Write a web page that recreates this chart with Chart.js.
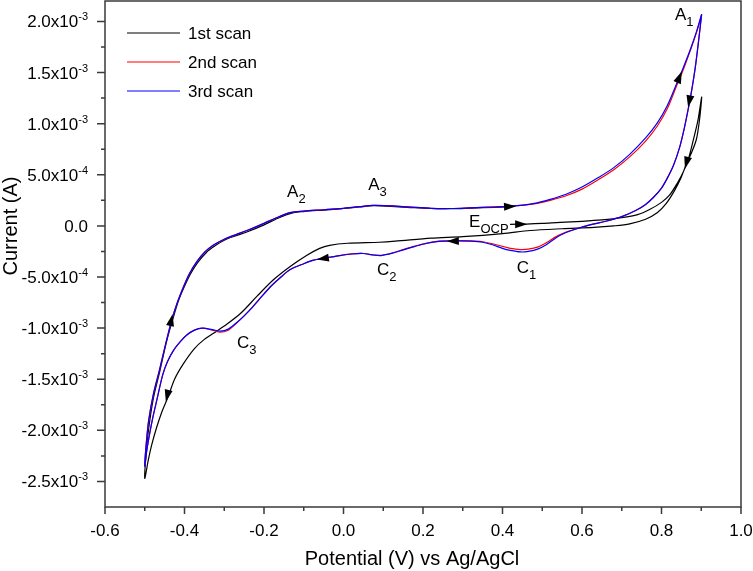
<!DOCTYPE html>
<html>
<head>
<meta charset="utf-8">
<script src="https://cdn.jsdelivr.net/npm/chart.js@4.4.0/dist/chart.umd.min.js"></script>
<style>
  html, body { margin: 0; padding: 0; background: #fff; }
  #cv-chart { display: block; }
</style>
</head>
<body>
<canvas id="cv-chart" width="753" height="571"></canvas>
<script>
'use strict';

// potential in V vs Ag/AgCl, current in mA (axis shows A)
const scan1Potential = [
    0.419, 0.46, 0.50, 0.545, 0.60, 0.65, 0.70, 0.74, 0.77, 0.80, 0.82, 0.84, 0.855, 0.868, 0.88, 0.892, 0.901,
    0.896, 0.888, 0.876, 0.862, 0.848, 0.832, 0.812, 0.79, 0.76, 0.72, 0.68, 0.63, 0.55, 0.47, 0.40, 0.30,
    0.22, 0.13, 0.09, 0.01, -0.035, -0.06, -0.093, -0.135, -0.177, -0.218, -0.26, -0.30, -0.325, -0.35, -0.375,
    -0.403, -0.425, -0.441, -0.457, -0.47, -0.483, -0.491, -0.50,
    -0.497, -0.49, -0.478, -0.462, -0.445, -0.43, -0.415, -0.40, -0.385, -0.367, -0.345, -0.325, -0.30, -0.27,
    -0.24, -0.20, -0.165, -0.13, -0.10, -0.05, 0.0, 0.04, 0.075, 0.12, 0.16, 0.22, 0.27, 0.32, 0.38, 0.43
];
const scan1Current = [
    0.015, 0.018, 0.024, 0.035, 0.045, 0.058, 0.08, 0.11, 0.16, 0.23, 0.30, 0.42, 0.53, 0.66, 0.84, 1.04, 1.26,
    1.05, 0.85, 0.72, 0.60, 0.46, 0.34, 0.22, 0.13, 0.065, 0.02, 0.0, -0.015, -0.028, -0.045, -0.075, -0.105,
    -0.12, -0.15, -0.16, -0.17, -0.19, -0.22, -0.29, -0.40, -0.53, -0.69, -0.86, -0.98, -1.045, -1.11, -1.20,
    -1.35, -1.50, -1.67, -1.82, -1.97, -2.15, -2.29, -2.47,
    -2.25, -1.98, -1.68, -1.42, -1.13, -0.92, -0.73, -0.59, -0.47, -0.36, -0.26, -0.20, -0.14, -0.095,
    -0.055, 0.01, 0.075, 0.125, 0.14, 0.155, 0.17, 0.185, 0.197, 0.19, 0.182, 0.17, 0.168, 0.174, 0.182, 0.19
];

const scan2Potential = [
    0.901, 0.893, 0.885, 0.877, 0.868, 0.857, 0.845, 0.83, 0.815, 0.80, 0.78, 0.76, 0.735, 0.70, 0.66, 0.62,
    0.585, 0.56, 0.535, 0.51, 0.49, 0.465, 0.445, 0.42, 0.40, 0.375, 0.35, 0.32, 0.28, 0.24, 0.21, 0.18, 0.15,
    0.125, 0.095, 0.075, 0.05, 0.02, -0.01, -0.04, -0.075, -0.10, -0.135, -0.16, -0.185, -0.21, -0.23, -0.25,
    -0.27, -0.29, -0.31, -0.33, -0.355, -0.375, -0.395, -0.41, -0.428, -0.443, -0.455, -0.47, -0.48, -0.488,
    -0.495, -0.50,
    -0.496, -0.49, -0.478, -0.463, -0.447, -0.432, -0.418, -0.403, -0.388, -0.369, -0.35, -0.328, -0.30, -0.27,
    -0.243, -0.20, -0.165, -0.135, -0.10, -0.05, 0.0, 0.04, 0.075, 0.12, 0.16, 0.22, 0.27, 0.32, 0.38, 0.43,
    0.48, 0.52, 0.56, 0.60, 0.64, 0.68, 0.72, 0.76, 0.79, 0.815, 0.838, 0.855, 0.872, 0.888, 0.901
];
const scan2Current = [
    2.07, 1.80, 1.55, 1.35, 1.16, 0.95, 0.76, 0.59, 0.47, 0.37, 0.28, 0.21, 0.15, 0.09, 0.045, 0.01,
    -0.03, -0.06, -0.105, -0.165, -0.205, -0.228, -0.232, -0.22, -0.20, -0.175, -0.155, -0.147, -0.145, -0.15,
    -0.168, -0.198, -0.232, -0.262, -0.288, -0.284, -0.27, -0.274, -0.29, -0.31, -0.335, -0.37, -0.43, -0.51,
    -0.60, -0.71, -0.80, -0.88, -0.955, -1.02, -1.04, -1.02, -1.0, -1.02, -1.07, -1.13, -1.22, -1.33, -1.46,
    -1.71, -1.88, -2.04, -2.2, -2.35,
    -2.12, -1.90, -1.64, -1.41, -1.15, -0.92, -0.75, -0.60, -0.47, -0.35, -0.26, -0.19, -0.13, -0.085,
    -0.045, 0.025, 0.085, 0.13, 0.145, 0.158, 0.172, 0.188, 0.20, 0.195, 0.186, 0.172, 0.17, 0.176, 0.185, 0.195,
    0.215, 0.25, 0.295, 0.36, 0.45, 0.55, 0.675, 0.83, 0.98, 1.15, 1.37, 1.53, 1.71, 1.89, 2.07
];

const scan3Potential = [
    0.901, 0.893, 0.885, 0.877, 0.868, 0.857, 0.845, 0.83, 0.815, 0.80, 0.78, 0.76, 0.735, 0.70, 0.66, 0.62,
    0.585, 0.56, 0.535, 0.51, 0.49, 0.465, 0.445, 0.42, 0.40, 0.375, 0.35, 0.32, 0.28, 0.24, 0.21, 0.18, 0.15,
    0.125, 0.095, 0.075, 0.05, 0.02, -0.01, -0.04, -0.075, -0.10, -0.135, -0.16, -0.185, -0.21, -0.23, -0.25,
    -0.27, -0.29, -0.31, -0.33, -0.355, -0.375, -0.395, -0.41, -0.428, -0.443, -0.455, -0.47, -0.48, -0.488,
    -0.495, -0.50,
    -0.496, -0.49, -0.478, -0.463, -0.447, -0.432, -0.418, -0.403, -0.388, -0.369, -0.35, -0.328, -0.30, -0.27,
    -0.243, -0.20, -0.165, -0.135, -0.10, -0.05, 0.0, 0.04, 0.075, 0.12, 0.16, 0.22, 0.27, 0.32, 0.38, 0.43,
    0.48, 0.52, 0.56, 0.60, 0.64, 0.68, 0.72, 0.76, 0.79, 0.815, 0.838, 0.855, 0.872, 0.888, 0.901
];
const scan3Current = [
    2.07, 1.80, 1.55, 1.35, 1.16, 0.95, 0.76, 0.59, 0.47, 0.37, 0.28, 0.21, 0.15, 0.09, 0.045, 0.01,
    -0.03, -0.065, -0.115, -0.185, -0.225, -0.25, -0.255, -0.24, -0.22, -0.185, -0.16, -0.15, -0.147, -0.152,
    -0.17, -0.20, -0.235, -0.265, -0.29, -0.285, -0.27, -0.275, -0.29, -0.31, -0.335, -0.37, -0.43, -0.51,
    -0.60, -0.71, -0.80, -0.88, -0.95, -1.01, -1.03, -1.015, -1.0, -1.02, -1.07, -1.13, -1.22, -1.33, -1.46,
    -1.71, -1.88, -2.04, -2.2, -2.35,
    -2.12, -1.90, -1.64, -1.41, -1.15, -0.92, -0.75, -0.60, -0.47, -0.35, -0.26, -0.19, -0.13, -0.085,
    -0.045, 0.025, 0.085, 0.13, 0.145, 0.158, 0.172, 0.188, 0.20, 0.195, 0.186, 0.172, 0.17, 0.176, 0.185, 0.195,
    0.22, 0.26, 0.31, 0.38, 0.47, 0.57, 0.70, 0.86, 1.01, 1.18, 1.39, 1.55, 1.72, 1.90, 2.07
];

const scanLabels = ['1st scan', '2nd scan', '3rd scan'];
const scanColors = ['#000000', '#ff0000', '#0000ff'];

const xTicks = [-0.6, -0.4, -0.2, 0.0, 0.2, 0.4, 0.6, 0.8, 1.0];
const xTickLabels = ['-0.6', '-0.4', '-0.2', '0.0', '0.2', '0.4', '0.6', '0.8', '1.0'];
const xMinorTicks = [-0.5, -0.3, -0.1, 0.1, 0.3, 0.5, 0.7, 0.9];
const yTicks = [2.0, 1.5, 1.0, 0.5, 0.0, -0.5, -1.0, -1.5, -2.0, -2.5];
const yTickLabels = [
    ['2.0x10', '-3'], ['1.5x10', '-3'], ['1.0x10', '-3'], ['5.0x10', '-4'], ['0.0', ''],
    ['-5.0x10', '-4'], ['-1.0x10', '-3'], ['-1.5x10', '-3'], ['-2.0x10', '-3'], ['-2.5x10', '-3']
];
const yMinorTicks = [1.75, 1.25, 0.75, 0.25, -0.25, -0.75, -1.25, -1.75, -2.25];

// peak labels, anchored in data units (left edge, baseline)
const peakLabels = [
    {text: 'A', sub: '1', at: [0.834, 2.01]},
    {text: 'A', sub: '2', at: [-0.142, 0.281]},
    {text: 'A', sub: '3', at: [0.062, 0.349]},
    {text: 'E', sub: 'OCP', at: [0.316, -0.013]},
    {text: 'C', sub: '1', at: [0.436, -0.463]},
    {text: 'C', sub: '2', at: [0.084, -0.482]},
    {text: 'C', sub: '3', at: [-0.268, -1.197]}
];

// sweep direction arrows: from -> tip, in data units
const sweepArrows = [
    {from: [0.43, 0.015], to: [0.462, 0.016]},
    {from: [0.40, 0.186], to: [0.434, 0.192]},
    {from: [0.835, 1.36], to: [0.851, 1.51]},
    {from: [0.874, 1.30], to: [0.867, 1.16]},
    {from: [0.866, 0.66], to: [0.859, 0.56]},
    {from: [0.30, -0.148], to: [0.26, -0.15]},
    {from: [-0.045, -0.315], to: [-0.067, -0.328]},
    {from: [-0.437, -0.99], to: [-0.430, -0.864]},
    {from: [-0.442, -1.64], to: [-0.447, -1.72]}
];

const FONT = '"Liberation Sans", Arial, sans-serif';

function toPoints(xs, ys) {
    return xs.map((x, i) => ({x: x, y: ys[i]}));
}

// text with a raised (dy < 0) or lowered (dy > 0) small part
function drawScripted(ctx, left, base, main, small, size, smallSize, dy) {
    ctx.font = size + 'px ' + FONT;
    ctx.fillText(main, left, base);
    const w = ctx.measureText(main).width;
    if (small) {
        ctx.font = smallSize + 'px ' + FONT;
        ctx.fillText(small, left + w, base + dy);
        return w + ctx.measureText(small).width;
    }
    return w;
}

function scriptedWidth(ctx, main, small, size, smallSize) {
    ctx.font = size + 'px ' + FONT;
    let w = ctx.measureText(main).width;
    if (small) {
        ctx.font = smallSize + 'px ' + FONT;
        w += ctx.measureText(small).width;
    }
    return w;
}

const cvDecor = {
    id: 'cvDecor',
    afterDraw(chart) {
        const ctx = chart.ctx;
        const a = chart.chartArea;
        const x = chart.scales.x;
        const y = chart.scales.y;
        ctx.save();

        // frame
        ctx.strokeStyle = '#3a3a3a';
        ctx.lineWidth = 1.5;
        ctx.strokeRect(a.left, a.top, a.right - a.left, a.bottom - a.top);

        // tick marks
        ctx.beginPath();
        xTicks.forEach(v => {
            const px = x.getPixelForValue(v);
            ctx.moveTo(px, a.bottom);
            ctx.lineTo(px, a.bottom + 7);
        });
        xMinorTicks.forEach(v => {
            const px = x.getPixelForValue(v);
            ctx.moveTo(px, a.bottom);
            ctx.lineTo(px, a.bottom + 4);
        });
        yTicks.forEach(v => {
            const py = y.getPixelForValue(v);
            ctx.moveTo(a.left, py);
            ctx.lineTo(a.left - 8, py);
        });
        yMinorTicks.forEach(v => {
            const py = y.getPixelForValue(v);
            ctx.moveTo(a.left, py);
            ctx.lineTo(a.left - 4, py);
        });
        ctx.stroke();

        ctx.fillStyle = '#000';
        ctx.textBaseline = 'alphabetic';

        // x tick labels
        ctx.font = '17px ' + FONT;
        ctx.textAlign = 'center';
        xTicks.forEach((v, i) => {
            ctx.fillText(xTickLabels[i], x.getPixelForValue(v), a.bottom + 29);
        });

        // y tick labels with exponent
        ctx.textAlign = 'left';
        yTicks.forEach((v, i) => {
            const [main, exp] = yTickLabels[i];
            const w = scriptedWidth(ctx, main, exp, 17, 11);
            drawScripted(ctx, a.left - 17 - w, y.getPixelForValue(v) + 6, main, exp, 17, 11, -7);
        });

        // axis titles
        ctx.font = '20px ' + FONT;
        ctx.textAlign = 'center';
        ctx.fillText('Potential (V) vs Ag/AgCl', 412, 565);
        ctx.save();
        ctx.translate(17, 226);
        ctx.rotate(-Math.PI / 2);
        ctx.fillText('Current (A)', 0, 0);
        ctx.restore();

        // legend
        ctx.textAlign = 'left';
        chart.data.datasets.forEach((ds, i) => {
            const ly = 33 + i * 29;
            ctx.strokeStyle = ds.borderColor;
            ctx.lineWidth = 1.2;
            ctx.beginPath();
            ctx.moveTo(127, ly);
            ctx.lineTo(180, ly);
            ctx.stroke();
            ctx.font = '17px ' + FONT;
            ctx.fillText(ds.label, 188, ly + 6);
        });

        // peak labels
        peakLabels.forEach(p => {
            drawScripted(ctx, x.getPixelForValue(p.at[0]), y.getPixelForValue(p.at[1]),
                p.text, p.sub, 17, 13, 6);
        });

        // sweep arrows
        ctx.fillStyle = '#000';
        sweepArrows.forEach(ar => {
            const fx = x.getPixelForValue(ar.from[0]);
            const fy = y.getPixelForValue(ar.from[1]);
            const tx = x.getPixelForValue(ar.to[0]);
            const ty = y.getPixelForValue(ar.to[1]);
            const ang = Math.atan2(ty - fy, tx - fx);
            const len = 12;
            const half = 4;
            const bx = tx - len * Math.cos(ang);
            const by = ty - len * Math.sin(ang);
            ctx.beginPath();
            ctx.moveTo(tx, ty);
            ctx.lineTo(bx - half * Math.sin(ang), by + half * Math.cos(ang));
            ctx.lineTo(bx + half * Math.sin(ang), by - half * Math.cos(ang));
            ctx.closePath();
            ctx.fill();
        });

        ctx.restore();
    }
};

Chart.defaults.font.family = FONT;

const scanSeries = [
    toPoints(scan1Potential, scan1Current),
    toPoints(scan2Potential, scan2Current),
    toPoints(scan3Potential, scan3Current)
];

const datasets = scanSeries.map((pts, i) => ({
    label: scanLabels[i],
    data: pts,
    showLine: true,
    borderColor: scanColors[i],
    backgroundColor: scanColors[i],
    borderWidth: 1.2,
    pointRadius: 0,
    tension: 0.3,
    order: 3 - i
}));

const canvas = document.getElementById('cv-chart');
const chart = new Chart(canvas.getContext('2d'), {
    type: 'scatter',
    data: {datasets: datasets},
    options: {
        responsive: false,
        animation: false,
        devicePixelRatio: 1,
        layout: {padding: {left: 0, right: 12, top: 1, bottom: 0}},
        plugins: {
            legend: {display: false},
            tooltip: {enabled: false}
        },
        scales: {
            x: {
                type: 'linear',
                min: -0.6,
                max: 1.0,
                ticks: {display: false},
                grid: {display: false},
                border: {display: false},
                afterFit(scale) { scale.height = 64; }
            },
            y: {
                type: 'linear',
                min: -2.75,
                max: 2.2,
                ticks: {display: false},
                grid: {display: false},
                border: {display: false},
                afterFit(scale) { scale.width = 105; }
            }
        }
    },
    plugins: [cvDecor]
});
</script>
</body>
</html>
